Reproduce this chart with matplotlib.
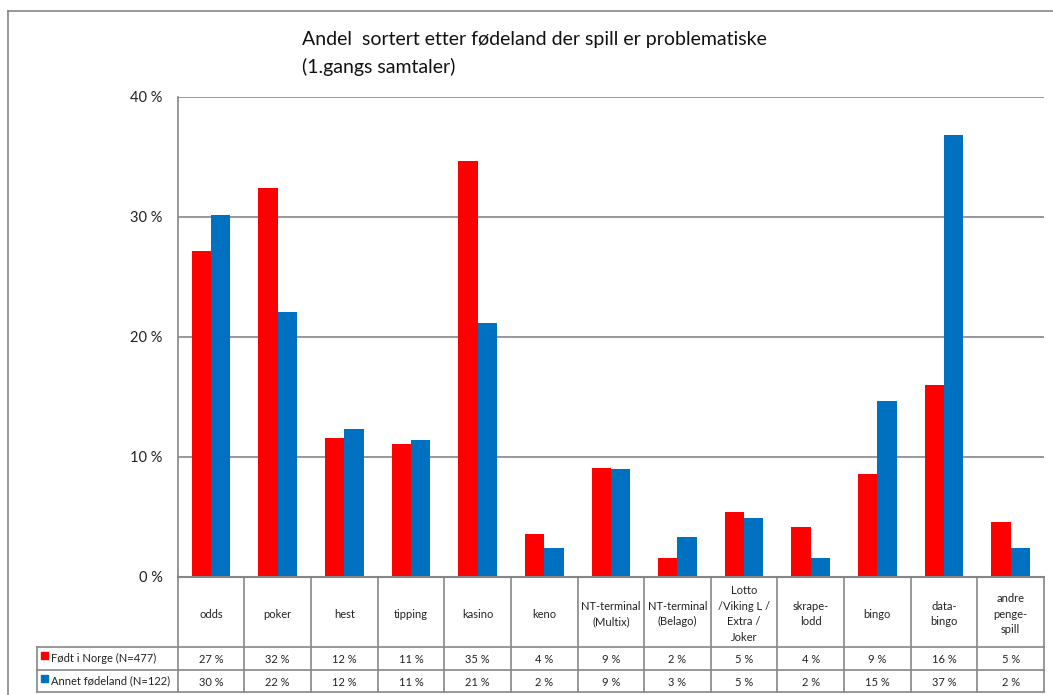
import matplotlib
matplotlib.use("Agg")
import matplotlib.pyplot as plt
import matplotlib.transforms as mtransforms
import numpy as np

plt.rcParams['font.family'] = ['Lato', 'DejaVu Sans']

# data
categories = ["odds", "poker", "hest", "tipping", "kasino", "keno",
              "NT-terminal\n(Multix)", "NT-terminal\n(Belago)",
              "Lotto\n/Viking L /\nExtra /\nJoker", "skrape-\nlodd", "bingo",
              "data-\nbingo", "andre\npenge-\nspill"]
norge = [27.2, 32.4, 11.6, 11.1, 34.7, 3.6, 9.1, 1.6, 5.4, 4.2, 8.6, 16.0, 4.6]
annet = [30.2, 22.1, 12.3, 11.4, 21.2, 2.4, 9.0, 3.3, 4.9, 1.6, 14.7, 36.8, 2.4]
series_names = ["Født i Norge (N=477)", "Annet fødeland (N=122)"]
yticks = [0, 10, 20, 30, 40]

RED = "#FF0000"
BLUE = "#0070C0"
GREY = "#868686"

W, H = 1053, 695
fig = plt.figure(figsize=(W / 100, H / 100), dpi=100)

# plot area in pixels
left, right, top, bottom = 177.7, 1044, 97, 577
ax = fig.add_axes([left / W, (H - bottom) / H, (right - left) / W, (bottom - top) / H])

x = np.arange(len(categories))
bw = 0.29
ax.bar(x - bw / 2, norge, bw, color=RED, zorder=3)
ax.bar(x + bw / 2, annet, bw, color=BLUE, zorder=3)

ax.set_xlim(-0.5, len(categories) - 0.5)
ax.set_ylim(0, 40)
ax.set_yticks(yticks)
ax.set_yticklabels([f"{t} %" for t in yticks], fontsize=10.5, color="#222222")
ax.tick_params(axis="y", length=0, pad=11)
ax.set_xticks([])
ax.grid(axis="y", color=GREY, linewidth=1.2, zorder=0)
for s in ["top", "right", "bottom"]:
    ax.spines[s].set_visible(False)
ax.spines["left"].set_color(GREY)
ax.spines["left"].set_linewidth(1.2)

# overlay in pixel coordinates
ov = fig.add_axes([0, 0, 1, 1], zorder=5)
ov.set_xlim(0, W)
ov.set_ylim(H, 0)
ov.axis("off")
ov.patch.set_alpha(0)

# outer frame
ov.plot([8, W], [11, 11], color=GREY, lw=1.2)
ov.plot([8, 8], [11, H], color=GREY, lw=1.2)

# title
ov.text(302, 40, "Andel  sortert etter fødeland der spill er problematiske",
        fontsize=14, va="center", ha="left", color="#111111")
ov.text(302, 67, "(1.gangs samtaler)", fontsize=14, va="center", ha="left", color="#111111")

# data table below the axis
bt = mtransforms.blended_transform_factory(ax.transData, ov.transData)
row1, row2, row3 = 647, 670, 692
lab_left = 37
ov.plot([left, right], [bottom, bottom], color=GREY, lw=1.5)
for yy in [row1, row2, row3]:
    ov.plot([lab_left, right], [yy, yy], color=GREY, lw=1.2)
ov.plot([lab_left, lab_left], [row1, row3], color=GREY, lw=1.2)
for i in range(len(categories) + 1):
    ov.plot([i - 0.5, i - 0.5], [bottom, row3], color=GREY, lw=1.2, transform=bt)

for i, cat in enumerate(categories):
    ov.text(i, (bottom + row1) / 2 + 2, cat, ha="center", va="center", fontsize=8,
            linespacing=1.5, color="#222222", transform=bt)
    ov.text(i, (row1 + row2) / 2 + 1, f"{norge[i]:.0f} %", ha="center", va="center",
            fontsize=8, color="#222222", transform=bt)
    ov.text(i, (row2 + row3) / 2 + 1, f"{annet[i]:.0f} %", ha="center", va="center",
            fontsize=8, color="#222222", transform=bt)

for (y0, y1), name, col in zip([(row1, row2), (row2, row3)], series_names, [RED, BLUE]):
    ov.add_patch(plt.Rectangle((41, y0 + 5), 7, 7, color=col))
    ov.text(51, (y0 + y1) / 2, name, ha="left", va="center", fontsize=8, color="#222222")

fig.savefig("out.png", dpi=100)
